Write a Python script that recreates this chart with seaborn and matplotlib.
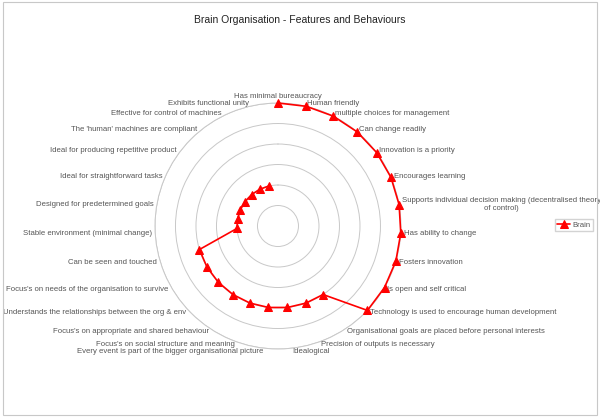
import numpy as np
import pandas as pd
import seaborn as sns
import matplotlib.pyplot as plt
from matplotlib.patches import Rectangle

# --- data ---
categories = [
    "Has minimal bureaucracy",
    "Human friendly",
    "multiple choices for management",
    "Can change readily",
    "Innovation is a priority",
    "Encourages learning",
    "Supports individual decision making (decentralised theory\nof control)",
    "Has ability to change",
    "Fosters innovation",
    "Is open and self critical",
    "Technology is used to encourage human development",
    "Organisational goals are placed before personal interests",
    "Precision of outputs is necessary",
    "Idealogical",
    "Every event is part of the bigger organisational picture",
    "Focus's on social structure and meaning",
    "Focus's on appropriate and shared behaviour",
    "Understands the relationships between the org & env",
    "Focus's on needs of the organisation to survive",
    "Can be seen and touched",
    "Stable environment (minimal change)",
    "Designed for predetermined goals",
    "Ideal for straightforward tasks",
    "Ideal for producing repetitive product",
    "The 'human' machines are compliant",
    "Effective for control of machines",
    "Exhibits functional unity",
]
brain = [6, 6, 6, 6, 6, 6, 6, 6, 6, 6, 6,
         4, 4, 4, 4, 4, 4, 4, 4, 4,
         2, 2, 2, 2, 2, 2, 2]
rings = [1, 2, 3, 4, 5, 6]

sns.set_style("white")
plt.rcParams['font.family'] = ['Liberation Sans', 'DejaVu Sans']

n = len(categories)
theta = np.linspace(0, 2 * np.pi, n, endpoint=False)
df = pd.DataFrame({
    "theta": np.append(theta, theta[0]),
    "value": brain + [brain[0]],
})

fig = plt.figure(figsize=(6.0, 4.17), dpi=100)
ax = fig.add_axes([0.2583, 0.163, 0.41, 0.59], projection="polar")
ax.set_theta_zero_location("N")
ax.set_theta_direction(-1)

sns.lineplot(data=df, x="theta", y="value", sort=False, ax=ax,
             color="#ff0000", lw=1.2, marker="^", markersize=6,
             markeredgecolor="#ff0000", label="Brain", clip_on=False,
             zorder=5)

ax.set_ylim(0, 6)
ax.set_yticks(rings)
ax.set_yticklabels([])
ax.set_xticks([])
ax.set_xlabel("")
ax.set_ylabel("")
ax.grid(True, color="#c8c8c8", lw=0.7)
ax.xaxis.grid(False)
ax.spines["polar"].set_color("#c8c8c8")
ax.spines["polar"].set_linewidth(0.7)

# category labels just outside the outer ring
for t, lab in zip(theta, categories):
    s = np.sin(t)
    if s > 0.01:
        ha = "left"
    elif s < -0.01:
        ha = "right"
    else:
        ha = "center"
    va = "bottom" if np.cos(t) > 0.99 else "center"
    ax.text(t, 6.15, lab, ha=ha, va=va, multialignment="center",
            fontsize=5.6, color="#555555")

ax.legend(loc="center left", bbox_to_anchor=(0.925, 0.46),
          bbox_transform=fig.transFigure, fontsize=5.6, frameon=True,
          fancybox=False, edgecolor="#c8c8c8", handlelength=1.6,
          borderpad=0.3, borderaxespad=0, handletextpad=0.3,
          labelcolor="#555555")

fig.text(0.5, 0.952, "Brain Organisation - Features and Behaviours",
         ha="center", va="center", fontsize=7.5, color="#222222")

fig.patches.append(Rectangle((0.005, 0.005), 0.99, 0.99,
                             transform=fig.transFigure, fill=False,
                             edgecolor="#c8c8c8", lw=0.8))

fig.savefig("out.png", dpi=100)
